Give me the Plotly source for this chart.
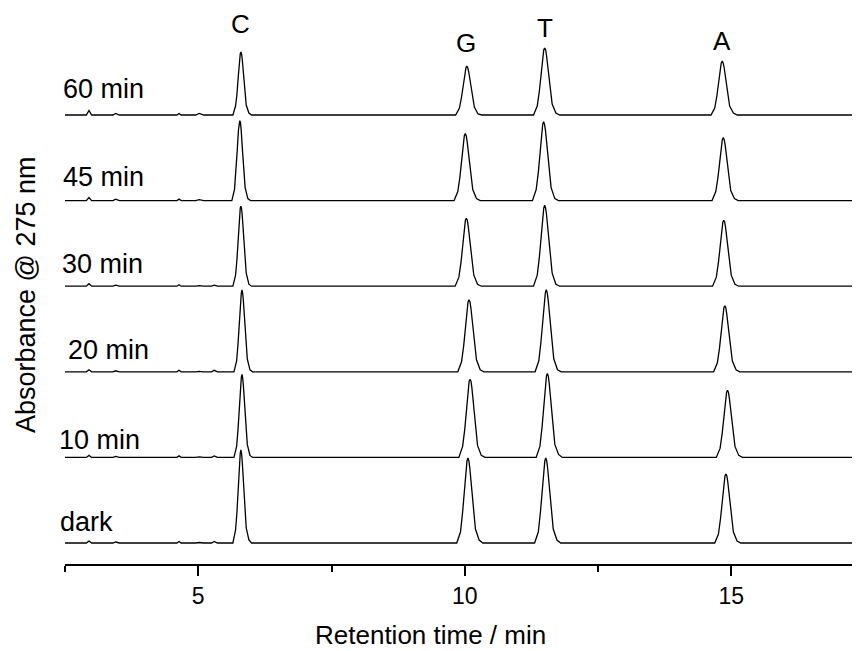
import plotly.graph_objects as go

# ---------------- data ----------------
sample_labels = ["dark", "10 min", "20 min", "30 min", "45 min", "60 min"]
peak_names = ["C", "G", "T", "A"]

# shared baseline sampling before the C peak (min)
bl_time = [2.5, 2.90, 2.95, 3.00, 3.40, 3.45, 3.52, 4.60, 4.64, 4.68,
           4.95, 5.02, 5.10, 5.25, 5.30, 5.36]
# small impurity bumps (heights at 2.95, 3.45, 4.64, 5.02, 5.30 min)
bumps_dark = [2.0, 1.0, 1.5, 0.5, 1.5]
bumps_10 = [2.0, 1.0, 1.5, 0.5, 1.5]
bumps_20 = [2.0, 1.0, 1.5, 0.5, 1.5]
bumps_30 = [2.5, 1.0, 1.5, 0.5, 1.0]
bumps_45 = [3.0, 1.5, 1.5, 1.0, 0.5]
bumps_60 = [4.5, 1.5, 1.5, 1.5, 0.5]

# chromatogram points: retention time (min) / absorbance (a.u.), peaks C, G, T, A
dark_t = [5.65, 5.70, 5.725, 5.75, 5.775, 5.788, 5.80, 5.812, 5.825, 5.85, 5.875, 5.90, 5.95, 6.00,
          9.85, 9.92, 9.96, 9.99, 10.025, 10.042, 10.06, 10.078, 10.095, 10.13, 10.16, 10.20, 10.27, 10.34,
          11.31, 11.38, 11.42, 11.45, 11.485, 11.502, 11.52, 11.538, 11.555, 11.59, 11.62, 11.66, 11.73, 11.80,
          14.69, 14.76, 14.80, 14.83, 14.865, 14.882, 14.90, 14.918, 14.935, 14.97, 15.00, 15.04, 15.11, 15.18,
          17.6]
dark_a = [0, 13, 30, 56, 82, 90, 93, 90, 82, 58, 32, 15, 3, 0,
          0, 11, 31, 52, 75, 82, 85, 82, 75, 53, 32, 14, 3, 0,
          0, 11, 31, 52, 75, 82, 85, 82, 75, 53, 32, 14, 3, 0,
          0, 9, 25, 42, 61, 67, 69, 67, 61, 43, 26, 11, 2, 0,
          0]

m10_t = [5.67, 5.72, 5.745, 5.77, 5.795, 5.808, 5.82, 5.832, 5.845, 5.87, 5.895, 5.92, 5.97, 6.02,
         9.89, 9.96, 10.00, 10.03, 10.065, 10.082, 10.10, 10.118, 10.135, 10.17, 10.20, 10.24, 10.31, 10.38,
         11.34, 11.41, 11.45, 11.48, 11.515, 11.532, 11.55, 11.568, 11.585, 11.62, 11.65, 11.69, 11.76, 11.83,
         14.72, 14.79, 14.83, 14.86, 14.895, 14.912, 14.93, 14.948, 14.965, 15.00, 15.03, 15.07, 15.14, 15.21,
         17.6]
m10_a = [0, 11, 27, 50, 73, 80, 83, 80, 73, 51, 28, 13, 2, 0,
         0, 11, 28, 47, 69, 76, 78, 76, 69, 48, 30, 12, 2, 0,
         0, 11, 30, 51, 74, 81, 84, 81, 74, 52, 32, 13, 3, 0,
         0, 9, 24, 41, 59, 65, 67, 65, 59, 42, 25, 11, 2, 0,
         0]

m20_t = [5.67, 5.72, 5.745, 5.77, 5.795, 5.808, 5.82, 5.832, 5.845, 5.87, 5.895, 5.92, 5.97, 6.02,
         9.87, 9.94, 9.98, 10.01, 10.045, 10.062, 10.08, 10.098, 10.115, 10.15, 10.18, 10.22, 10.29, 10.36,
         11.32, 11.39, 11.43, 11.46, 11.495, 11.512, 11.53, 11.548, 11.565, 11.60, 11.63, 11.67, 11.74, 11.81,
         14.67, 14.74, 14.78, 14.81, 14.845, 14.862, 14.88, 14.898, 14.915, 14.95, 14.98, 15.02, 15.09, 15.16,
         17.6]
m20_a = [0, 11, 27, 50, 72, 79, 82, 79, 72, 51, 28, 13, 2, 0,
         0, 10, 26, 44, 64, 70, 72, 70, 64, 45, 27, 12, 2, 0,
         0, 11, 30, 50, 72, 79, 82, 79, 72, 51, 31, 13, 2, 0,
         0, 9, 24, 40, 58, 64, 66, 64, 58, 41, 25, 11, 2, 0,
         0]

m30_t = [5.65, 5.70, 5.725, 5.75, 5.775, 5.788, 5.80, 5.812, 5.825, 5.85, 5.875, 5.90, 5.95, 6.00,
         9.82, 9.89, 9.93, 9.96, 9.995, 10.012, 10.03, 10.048, 10.065, 10.10, 10.13, 10.17, 10.24, 10.31,
         11.29, 11.36, 11.40, 11.43, 11.465, 11.482, 11.50, 11.518, 11.535, 11.57, 11.60, 11.64, 11.71, 11.78,
         14.65, 14.72, 14.76, 14.79, 14.825, 14.842, 14.86, 14.878, 14.895, 14.93, 14.96, 15.00, 15.07, 15.14,
         17.6]
m30_a = [0, 11, 26, 49, 71, 78, 80, 78, 71, 50, 27, 13, 2, 0,
         0, 9, 24, 41, 60, 66, 68, 66, 60, 42, 26, 11, 2, 0,
         0, 11, 29, 49, 71, 78, 81, 78, 71, 50, 31, 13, 2, 0,
         0, 9, 24, 40, 58, 64, 66, 64, 58, 41, 25, 11, 2, 0,
         0]

m45_t = [5.63, 5.68, 5.705, 5.73, 5.755, 5.768, 5.78, 5.792, 5.805, 5.83, 5.855, 5.88, 5.93, 5.98,
         9.80, 9.87, 9.91, 9.94, 9.975, 9.992, 10.01, 10.028, 10.045, 10.08, 10.11, 10.15, 10.22, 10.29,
         11.27, 11.34, 11.38, 11.41, 11.445, 11.462, 11.48, 11.498, 11.515, 11.55, 11.58, 11.62, 11.69, 11.76,
         14.64, 14.71, 14.75, 14.78, 14.815, 14.832, 14.85, 14.868, 14.885, 14.92, 14.95, 14.99, 15.06, 15.13,
         17.6]
m45_a = [0, 11, 26, 49, 71, 78, 80, 78, 71, 50, 27, 13, 2, 0,
         0, 9, 24, 41, 59, 65, 67, 65, 59, 42, 25, 11, 2, 0,
         0, 11, 28, 48, 70, 76, 79, 76, 70, 49, 30, 13, 2, 0,
         0, 9, 23, 38, 56, 61, 63, 61, 56, 39, 24, 10, 2, 0,
         0]

m60_t = [5.65, 5.70, 5.725, 5.75, 5.775, 5.788, 5.80, 5.812, 5.825, 5.85, 5.875, 5.90, 5.95, 6.00,
         9.83, 9.90, 9.94, 9.97, 10.005, 10.022, 10.04, 10.058, 10.075, 10.11, 10.14, 10.18, 10.25, 10.32,
         11.29, 11.36, 11.40, 11.43, 11.465, 11.482, 11.50, 11.518, 11.535, 11.57, 11.60, 11.64, 11.71, 11.78,
         14.62, 14.69, 14.73, 14.76, 14.795, 14.812, 14.83, 14.848, 14.865, 14.90, 14.93, 14.97, 15.04, 15.11,
         17.6]
m60_a = [0, 9, 20, 38, 56, 61, 63, 61, 56, 39, 21, 10, 2, 0,
         0, 7, 18, 30, 43, 47, 49, 47, 43, 30, 19, 8, 1, 0,
         0, 9, 24, 41, 59, 65, 67, 65, 59, 42, 25, 11, 2, 0,
         0, 7, 19, 33, 48, 52, 54, 52, 48, 33, 21, 9, 2, 0,
         0]

# label positions of the peaks (retention time, min) for the top trace
peak_label_times = [5.80, 10.03, 11.50, 14.83]

x_ticks = [5, 10, 15]
x_minor_ticks = [2.5, 7.5, 12.5, 17.5]

# ---------------- figure ----------------
FONT = "Liberation Sans, Arial, sans-serif"
STEP = 85.6          # vertical offset between stacked chromatograms
PX_PER_MIN = 53.3
FIG_W = 852          # page has an 8 px body margin
FIG_H = 643
ML = 57              # left margin
PW = FIG_W - ML      # plot width
PH = 556             # plot height

traces = [
    (dark_t, dark_a, bumps_dark),
    (m10_t, m10_a, bumps_10),
    (m20_t, m20_a, bumps_20),
    (m30_t, m30_a, bumps_30),
    (m45_t, m45_a, bumps_45),
    (m60_t, m60_a, bumps_60),
]


def baseline(bumps):
    return [0, 0, bumps[0], 0, 0, bumps[1], 0, 0, bumps[2], 0,
            0, bumps[3], 0, 0, bumps[4], 0]


fig = go.Figure()
for i, (tt, aa, bb) in enumerate(traces):
    x = bl_time + tt
    y = [v + i * STEP for v in baseline(bb) + aa]
    fig.add_trace(go.Scatter(x=x, y=y, mode="lines",
                             line=dict(color="black", width=1.3),
                             name=sample_labels[i], showlegend=False,
                             hoverinfo="skip"))


def px_x(page_x):
    return (page_x - 65) / PW


def px_y(page_y):
    return (564 - page_y) / PH


annotations = []
# sample labels (left), page pixel positions
label_px = [(58, 522), (57, 440), (66, 350), (60, 264), (61, 177), (61, 89)]
for lab, (px, py) in zip(sample_labels, label_px):
    annotations.append(dict(text=lab, xref="paper", yref="y",
                            x=px_x(px), y=543 - py,
                            xanchor="left", yanchor="middle", showarrow=False,
                            font=dict(family=FONT, size=27, color="black")))
# peak names on top
peak_label_y = [519, 500, 515, 502]
for name, xt, yv in zip(peak_names, peak_label_times, peak_label_y):
    annotations.append(dict(text=name, x=xt, y=yv, xref="x", yref="y",
                            showarrow=False, xanchor="center", yanchor="middle",
                            font=dict(family=FONT, size=26, color="black")))
# axis titles
annotations.append(dict(text="Retention time / min", xref="paper", yref="paper",
                        x=px_x(430), y=px_y(635),
                        xanchor="center", yanchor="middle", showarrow=False,
                        font=dict(family=FONT, size=26, color="black")))
annotations.append(dict(text="Absorbance @ 275 nm", xref="paper", yref="paper",
                        x=px_x(26), y=px_y(295), textangle=-90,
                        xanchor="center", yanchor="middle", showarrow=False,
                        font=dict(family=FONT, size=27, color="black")))

fig.update_layout(
    width=FIG_W, height=FIG_H,
    margin=dict(l=ML, r=0, t=0, b=FIG_H - PH),
    plot_bgcolor="white", paper_bgcolor="white",
    annotations=annotations,
    xaxis=dict(range=[2.5, 2.5 + PW / PX_PER_MIN], tickvals=x_ticks,
               ticktext=[str(v) for v in x_ticks],
               ticks="outside", ticklen=10, tickwidth=2, tickcolor="black",
               showline=True, linecolor="black", linewidth=2,
               showgrid=False, zeroline=False,
               tickfont=dict(family=FONT, size=23, color="black"),
               minor=dict(tickvals=x_minor_ticks, ticks="outside", ticklen=6,
                          tickwidth=2, tickcolor="black", showgrid=False)),
    yaxis=dict(range=[-21, PH - 21], visible=False, showgrid=False, zeroline=False),
)

fig.write_html("out.html")
